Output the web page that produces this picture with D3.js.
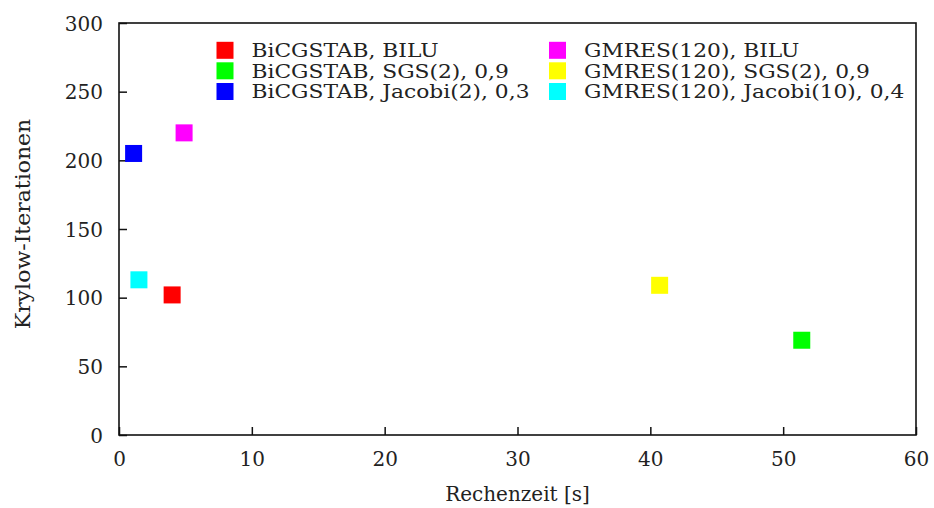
<!DOCTYPE html>
<html><head><meta charset="utf-8">
<script src="https://cdn.jsdelivr.net/npm/d3@7"></script>
<style>
body{margin:0;background:#fff;}
text{font-family:"DejaVu Serif",serif;fill:#222;}
</style></head>
<body><svg id="c" width="934" height="508"></svg>
<script>
const seriesNames = ["BiCGSTAB, BILU","BiCGSTAB, SGS(2), 0,9","BiCGSTAB, Jacobi(2), 0,3",
  "GMRES(120), BILU","GMRES(120), SGS(2), 0,9","GMRES(120), Jacobi(10), 0,4"];
const seriesColors = ["#ff0000","#00ff00","#0000ff","#ff00ff","#ffff00","#00ffff"];
const timeValues = [4.0, 51.4, 1.1, 4.9, 40.7, 1.5];
const iterValues = [102, 69, 205, 220, 109, 113];
const xTicks = [0,10,20,30,40,50,60];
const yTicks = [0,50,100,150,200,250,300];
const xLabel = "Rechenzeit [s]";
const yLabel = "Krylow-Iterationen";

const svg = d3.select("#c");
const L=119, R=916, T=23, B=435;
const x = d3.scaleLinear().domain([0,60]).range([L,R]);
const y = d3.scaleLinear().domain([0,300]).range([B,T]);
const fs = 20, lfs = 18, lstretch = 1.21;

// ticks
const ax = svg.append("g").attr("transform",`translate(0,${B})`)
  .call(d3.axisBottom(x).tickValues(xTicks).tickSize(-8).tickPadding(19).tickFormat(d3.format("d")));
const ay = svg.append("g").attr("transform",`translate(${L},0)`)
  .call(d3.axisLeft(y).tickValues(yTicks).tickSize(-8).tickPadding(16).tickFormat(d3.format("d")));
[ax,ay].forEach(g=>{
  g.attr("font-family",null);
  g.select(".domain").remove();
  g.selectAll(".tick line").attr("stroke","#111").attr("stroke-width",1.5);
  g.selectAll(".tick text").attr("font-size",fs).attr("fill","#222");
});
ay.selectAll(".tick text").attr("dy","0.36em");
ax.selectAll(".tick text").attr("dy","0.62em");

// frame
svg.append("rect").attr("x",L).attr("y",T).attr("width",R-L).attr("height",B-T)
  .attr("fill","none").attr("stroke","#111").attr("stroke-width",1.6);

// points
const sz = 17;
const data = seriesNames.map((n,i)=>({n, c:seriesColors[i], t:timeValues[i], v:iterValues[i]}));
svg.append("g").selectAll("rect").data(data).join("rect")
  .attr("x",d=>x(d.t)-sz/2).attr("y",d=>y(d.v)-sz/2)
  .attr("width",sz).attr("height",sz).attr("fill",d=>d.c);

// legend
const colX=[225,557.5], rowY=[50.3,70.8,91.5];
const lg = svg.append("g");
data.forEach((d,i)=>{
  const cx = colX[Math.floor(i/3)], cy = rowY[i%3];
  lg.append("rect").attr("x",cx-sz/2).attr("y",cy-sz/2).attr("width",sz).attr("height",sz).attr("fill",d.c);
  lg.append("text").attr("transform",`translate(${cx+26.5},${cy+6.8}) scale(${lstretch},1)`)
    .attr("font-size",lfs).text(d.n);
});

// axis labels
svg.append("text").attr("x",(L+R)/2).attr("y",501)
  .attr("text-anchor","middle").attr("font-size",fs).text(xLabel);
svg.append("text").attr("transform",`translate(30,224) rotate(-90) scale(1.1,1)`)
  .attr("text-anchor","middle").attr("font-size",fs).text(yLabel);
</script></body></html>
